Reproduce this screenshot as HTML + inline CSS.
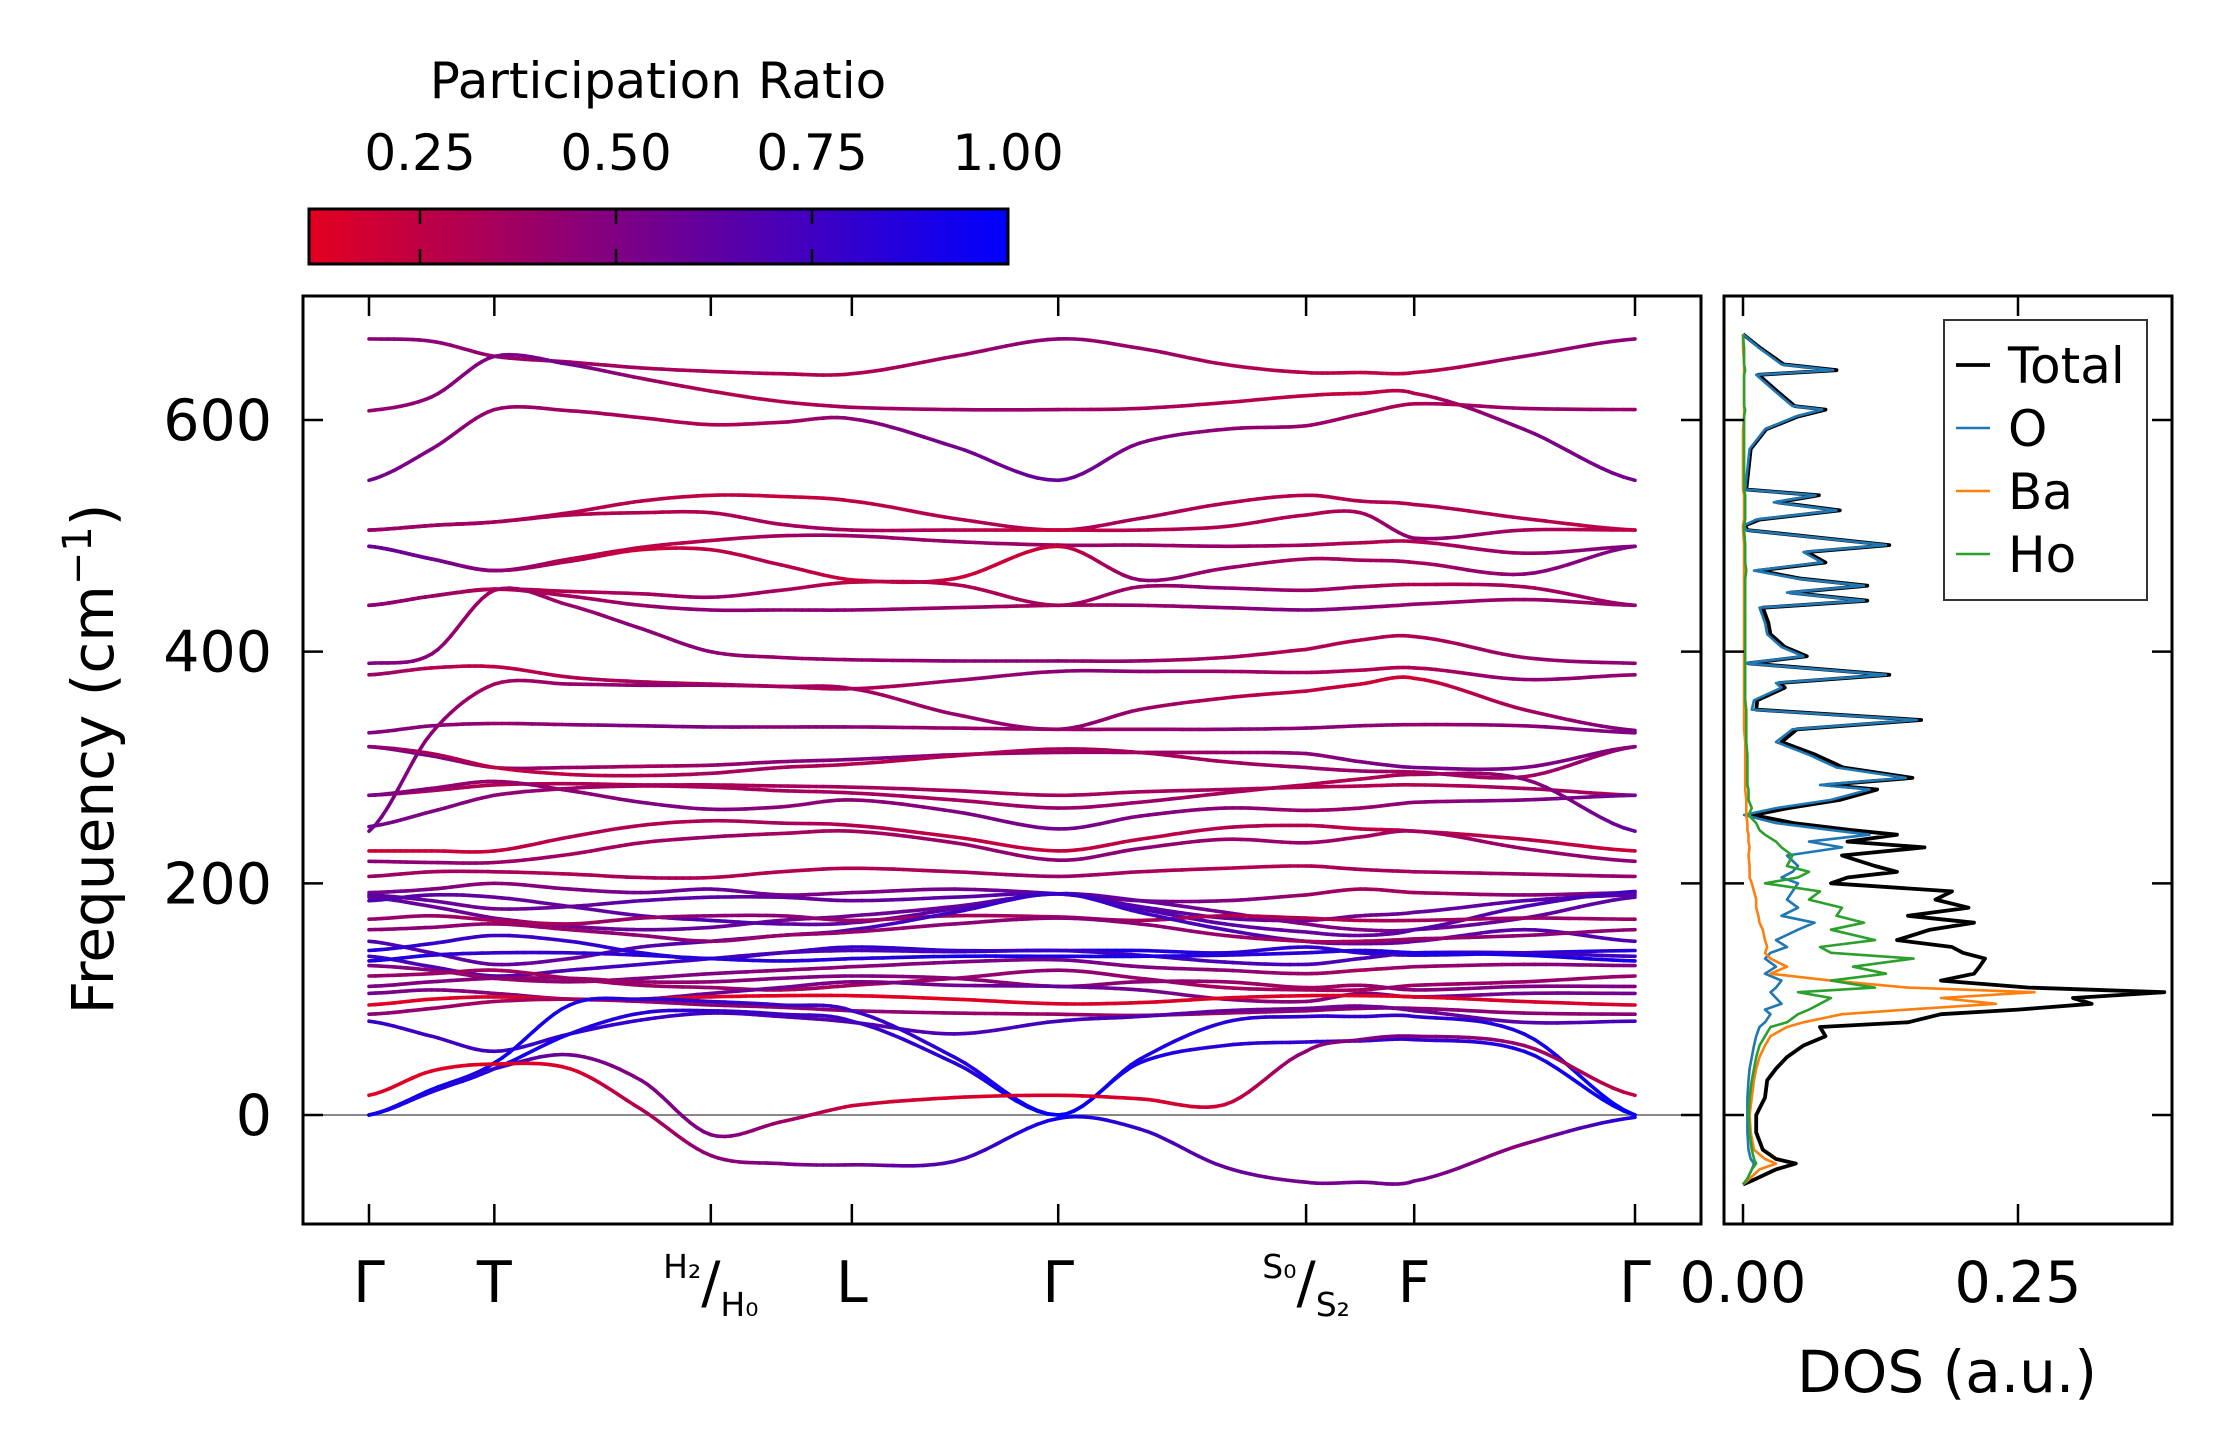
<!DOCTYPE html>
<html><head><meta charset="utf-8"><style>
html,body{margin:0;padding:0;background:#fff}
svg{display:block;font-family:"DejaVu Sans","Liberation Sans",sans-serif}
</style></head><body>
<svg id="fig" width="2222" height="1455" viewBox="0 0 2222 1455" xmlns="http://www.w3.org/2000/svg">
<defs>
<linearGradient id="cbgrad" x1="0" x2="1" y1="0" y2="0">
<stop offset="0" stop-color="rgb(227,0,32)"/><stop offset="1" stop-color="rgb(0,0,255)"/>
</linearGradient>
<clipPath id="bandclip"><rect x="303" y="296" width="1398" height="928"/></clipPath>
<clipPath id="dosclip"><rect x="1724" y="296" width="448" height="928"/></clipPath>
</defs>
<g>
<text x="658" y="98" font-size="50" text-anchor="middle">Participation Ratio</text>
<rect x="309" y="209" width="699" height="55" fill="url(#cbgrad)" stroke="#000" stroke-width="3"/>
<g id="cbticks"></g>
</g>
<g id="bands"></g>
<g id="dos"></g>
</svg>
<script>
const NS='http://www.w3.org/2000/svg';
const kLabels=['Γ','T','H','L','Γ','S','F','Γ'];
const kLabelPos=[0,0.099,0.27,0.3814,0.5444,0.7402,0.8256,1];
const kSamples=[0,0.0495,0.099,0.1586,0.2149,0.27,0.3251,0.3814,0.4623,0.5444,0.6085,0.676,0.7402,0.7829,0.8256,0.9123,1];
const yTicks=[0,200,400,600];
const cbTicks=[0.25,0.5,0.75,1.0];
const cbTickLabels=['0.25','0.50','0.75','1.00'];
const bandFreqs=[
[670,668,655,650,645,642,640,640,655,670,662,648,641,641,641,655,670],
[608,620,655,648,636,625,616,611,609,609,610,615,621,623,623,592,548],
[548,575,609,608,602,596,598,601,577,548,580,592,595,605,614,610,609],
[505,509,512,520,530,535,534,530,515,505,515,528,535,530,527,515,505],
[505,509,512,518,520,520,510,505,505,505,505,508,518,520,498,505,505],
[491,480,470,480,490,496,500,500,495,492,492,491,492,494,495,485,491],
[491,480,470,478,488,488,475,462,463,491,462,472,480,479,477,467,491],
[440,448,454,452,450,447,453,460,458,440,456,455,453,456,458,456,440],
[440,448,454,448,440,436,436,436,438,440,440,438,436,438,441,445,440],
[390,398,453,440,420,400,395,393,392,392,392,395,402,410,413,395,390],
[380,386,387,378,374,372,370,368,375,383,383,383,382,384,386,376,380],
[245,330,372,372,371,371,370,368,346,333,350,360,366,372,377,350,332],
[330,336,338,337,336,335,335,335,334,333,333,333,334,336,337,336,330],
[318,310,300,300,301,302,305,307,311,313,313,313,312,305,300,300,318],
[318,312,300,294,293,295,300,303,310,316,313,305,300,297,296,292,318],
[276,280,285,286,285,285,284,283,280,276,279,281,283,284,285,282,276],
[276,282,288,280,270,264,266,272,262,247,258,265,263,265,270,272,276],
[249,262,276,282,284,283,280,278,272,265,270,278,285,290,294,290,245],
[228,228,228,240,250,254,252,250,240,228,238,248,250,247,245,238,228],
[219,218,218,225,235,240,243,245,235,220,230,238,235,240,245,230,219],
[206,210,210,208,205,205,210,213,210,206,210,213,215,212,210,208,206],
[192,195,200,195,192,195,190,192,195,191,185,185,190,195,192,190,192],
[190,185,178,180,185,188,188,185,188,191,180,170,168,172,175,185,190],
[188,180,170,163,160,162,168,172,180,191,185,175,165,160,160,170,188],
[185,190,188,180,172,168,165,166,178,191,178,165,158,155,160,180,193],
[169,172,168,165,170,172,172,168,172,171,168,172,170,168,168,170,169],
[150,140,130,135,145,150,155,160,175,191,175,160,150,148,150,160,150],
[160,162,165,160,155,150,155,158,165,170,165,155,150,150,152,155,160],
[142,148,155,150,140,135,140,145,142,142,142,140,145,140,138,140,142],
[137,128,120,125,130,135,140,142,141,142,138,132,130,135,140,140,137],
[133,138,140,140,138,135,133,135,137,137,137,138,140,142,140,138,133],
[129,125,118,115,118,122,125,128,132,134,128,125,122,125,128,130,129],
[120,122,125,118,112,110,108,112,118,125,118,110,108,108,112,115,120],
[111,115,118,118,115,115,118,120,118,111,115,115,110,112,108,111,111],
[105,108,105,100,100,105,110,115,112,111,108,100,98,105,102,105,105],
[95,100,102,100,100,102,103,103,100,96,97,101,103,103,102,98,95],
[87,92,98,100,98,95,93,90,88,87,86,88,90,92,92,88,87],
[81,68,55,70,82,88,85,80,70,81,85,90,92,94,90,80,81],
[0,20,40,70,88,90,87,81,45,0,45,60,63,64,65,55,0],
[0,22,45,95,100,98,95,90,50,0,48,80,85,85,85,70,0],
[0,20,40,52,30,-17,-6,8,15,17,14,9,55,65,68,60,17],
[17,38,44,40,5,-35,-42,-43,-40,-3,-12,-45,-58,-58,-57,-25,-2]
];
const bandPR=[
[0.45,0.45,0.4,0.38,0.35,0.33,0.3,0.3,0.38,0.45,0.4,0.32,0.28,0.25,0.25,0.4,0.45],
[0.4,0.45,0.5,0.55,0.4,0.3,0.3,0.35,0.4,0.4,0.35,0.3,0.25,0.22,0.3,0.5,0.55],
[0.55,0.5,0.4,0.38,0.32,0.3,0.35,0.45,0.55,0.6,0.5,0.45,0.4,0.35,0.32,0.4,0.4],
[0.4,0.38,0.35,0.3,0.28,0.25,0.22,0.25,0.3,0.3,0.35,0.3,0.28,0.3,0.3,0.3,0.25],
[0.4,0.38,0.35,0.3,0.3,0.3,0.35,0.35,0.3,0.2,0.3,0.3,0.3,0.35,0.45,0.35,0.25],
[0.6,0.55,0.45,0.3,0.25,0.3,0.35,0.4,0.4,0.4,0.4,0.4,0.35,0.3,0.3,0.4,0.5],
[0.6,0.55,0.45,0.3,0.2,0.25,0.3,0.2,0.2,0.2,0.45,0.4,0.35,0.35,0.35,0.45,0.5],
[0.45,0.4,0.3,0.3,0.35,0.4,0.35,0.25,0.3,0.35,0.4,0.45,0.4,0.35,0.3,0.35,0.4],
[0.45,0.4,0.3,0.35,0.4,0.45,0.45,0.45,0.4,0.35,0.4,0.45,0.5,0.45,0.4,0.4,0.4],
[0.5,0.45,0.35,0.4,0.45,0.45,0.4,0.4,0.45,0.45,0.4,0.35,0.3,0.3,0.3,0.4,0.45],
[0.4,0.3,0.25,0.3,0.35,0.3,0.3,0.3,0.4,0.45,0.45,0.4,0.35,0.3,0.3,0.45,0.4],
[0.55,0.45,0.35,0.4,0.45,0.4,0.35,0.35,0.4,0.45,0.4,0.3,0.25,0.2,0.18,0.35,0.5],
[0.5,0.45,0.4,0.45,0.5,0.5,0.45,0.45,0.4,0.4,0.4,0.45,0.45,0.45,0.4,0.45,0.5],
[0.55,0.5,0.45,0.4,0.35,0.4,0.45,0.5,0.45,0.4,0.4,0.4,0.45,0.5,0.55,0.5,0.5],
[0.45,0.35,0.25,0.25,0.3,0.35,0.35,0.3,0.3,0.35,0.35,0.35,0.4,0.4,0.35,0.35,0.45],
[0.4,0.35,0.3,0.3,0.3,0.3,0.35,0.35,0.35,0.35,0.35,0.35,0.3,0.3,0.3,0.35,0.35],
[0.5,0.45,0.4,0.45,0.5,0.5,0.45,0.45,0.5,0.55,0.5,0.45,0.4,0.4,0.45,0.5,0.55],
[0.55,0.5,0.45,0.4,0.35,0.35,0.35,0.35,0.35,0.4,0.4,0.35,0.3,0.3,0.35,0.45,0.6],
[0.2,0.2,0.22,0.3,0.3,0.3,0.35,0.3,0.25,0.22,0.25,0.3,0.3,0.25,0.25,0.28,0.2],
[0.45,0.45,0.4,0.35,0.35,0.4,0.35,0.35,0.4,0.45,0.45,0.4,0.4,0.35,0.35,0.4,0.45],
[0.4,0.35,0.35,0.3,0.35,0.3,0.3,0.3,0.35,0.4,0.35,0.3,0.3,0.35,0.35,0.4,0.4],
[0.55,0.5,0.45,0.5,0.55,0.6,0.55,0.5,0.55,0.6,0.55,0.5,0.4,0.35,0.35,0.45,0.55],
[0.65,0.6,0.55,0.6,0.65,0.65,0.6,0.6,0.65,0.7,0.65,0.6,0.55,0.55,0.6,0.65,0.65],
[0.6,0.6,0.55,0.55,0.6,0.6,0.55,0.55,0.6,0.65,0.6,0.55,0.5,0.5,0.55,0.6,0.65],
[0.7,0.65,0.6,0.6,0.65,0.7,0.65,0.6,0.65,0.75,0.7,0.65,0.6,0.6,0.65,0.7,0.75],
[0.4,0.4,0.35,0.35,0.4,0.45,0.45,0.4,0.35,0.35,0.35,0.3,0.3,0.3,0.35,0.4,0.4],
[0.7,0.65,0.6,0.6,0.65,0.7,0.7,0.7,0.75,0.8,0.75,0.7,0.65,0.6,0.6,0.65,0.7],
[0.45,0.45,0.4,0.4,0.45,0.45,0.4,0.4,0.45,0.45,0.45,0.4,0.35,0.35,0.4,0.45,0.45],
[0.85,0.8,0.75,0.8,0.85,0.85,0.8,0.8,0.85,0.9,0.9,0.85,0.8,0.8,0.85,0.85,0.85],
[0.75,0.7,0.65,0.7,0.75,0.75,0.7,0.7,0.75,0.8,0.75,0.7,0.7,0.7,0.75,0.75,0.75],
[0.9,0.85,0.8,0.8,0.85,0.85,0.85,0.85,0.9,0.9,0.9,0.85,0.85,0.85,0.9,0.9,0.9],
[0.5,0.45,0.4,0.45,0.5,0.5,0.45,0.45,0.5,0.55,0.5,0.45,0.4,0.35,0.4,0.45,0.5],
[0.4,0.4,0.35,0.35,0.4,0.4,0.35,0.35,0.4,0.45,0.4,0.35,0.35,0.35,0.4,0.4,0.4],
[0.5,0.5,0.45,0.4,0.4,0.45,0.5,0.5,0.45,0.45,0.45,0.4,0.35,0.4,0.45,0.5,0.5],
[0.55,0.5,0.45,0.5,0.55,0.6,0.55,0.5,0.55,0.6,0.55,0.5,0.45,0.5,0.55,0.55,0.55],
[0.12,0.12,0.15,0.12,0.12,0.1,0.1,0.1,0.12,0.15,0.15,0.12,0.12,0.12,0.12,0.15,0.15],
[0.45,0.4,0.35,0.35,0.4,0.45,0.45,0.45,0.4,0.4,0.4,0.4,0.45,0.45,0.45,0.45,0.45],
[0.8,0.75,0.75,0.8,0.8,0.75,0.7,0.65,0.7,0.75,0.7,0.6,0.55,0.55,0.55,0.65,0.75],
[1,1,0.95,0.9,0.85,0.8,0.75,0.75,0.85,1,0.9,0.85,0.8,0.8,0.8,0.9,1],
[1,1,0.95,0.9,0.85,0.8,0.75,0.75,0.85,1,0.9,0.85,0.8,0.8,0.8,0.9,1],
[0.95,0.85,0.8,0.55,0.5,0.5,0.4,0.2,0.15,0.15,0.15,0.2,0.45,0.5,0.5,0.4,0.25],
[0.12,0.12,0.12,0.15,0.3,0.45,0.5,0.55,0.7,0.95,0.8,0.6,0.55,0.55,0.55,0.45,0.9]
];
const dosFreq=[674,662,648,643,639,624,612,609,603,592,575,540,535,529,522,514,509,505,492,486,477,470,463,457,451,444,438,425,415,404,396,390,380,373,369,358,350,341,333,322,311,300,291,285,281,272,265,259,252,246,242,236,231,224,215,210,205,200,193,186,179,172,166,160,151,145,140,135,128,122,116,110,106,101,96,91,87,80,76,68,60,50,40,30,15,0,-15,-30,-38,-42,-47,-55,-60];
const dosO=[0,.015,.035,.082,.012,.030,.045,.072,.048,.020,.006,.002,.066,.028,.085,.012,.001,.003,.130,.055,.072,.010,.050,.110,.040,.110,.015,.020,.022,.035,.055,.002,.130,.030,.035,.010,.008,.158,.045,.030,.060,.085,.148,.070,.115,.080,.030,.001,.030,.080,.115,.060,.090,.040,.050,.045,.035,.050,.045,.040,.050,.035,.065,.050,.030,.040,.025,.020,.030,.020,.035,.030,.025,.030,.035,.020,.025,.020,.015,.012,.010,.008,.006,.005,.004,.004,.004,.005,.007,.010,.008,.004,0];
const dosBa=[0,0,.001,.001,.001,.001,.001,.001,.001,0,0,0,.001,.001,.001,.001,0,0,.001,.001,.001,.001,.001,.001,.001,.001,.001,.001,.001,.001,.001,.001,.001,.001,.001,.001,.001,.001,.001,.002,.002,.002,.002,.002,.002,.003,.003,.003,.004,.004,.005,.005,.006,.005,.006,.006,.006,.008,.010,.012,.012,.014,.015,.018,.020,.022,.020,.025,.040,.025,.080,.150,.265,.180,.230,.150,.090,.055,.040,.025,.020,.015,.012,.010,.008,.006,.007,.010,.020,.030,.015,.006,0];
const dosHo=[0,.001,.001,.002,.001,.001,.001,.002,.001,.001,.001,.001,.002,.002,.002,.002,.001,.001,.002,.002,.002,.003,.002,.002,.002,.002,.002,.002,.002,.002,.002,.002,.002,.002,.002,.002,.003,.003,.003,.003,.004,.004,.004,.004,.005,.005,.008,.005,.012,.015,.020,.030,.035,.045,.040,.060,.050,.020,.070,.060,.090,.085,.110,.080,.120,.070,.080,.155,.100,.130,.080,.120,.050,.080,.070,.060,.050,.040,.025,.020,.015,.012,.010,.008,.006,.005,.006,.008,.010,.012,.008,.004,0];
const dosTotal=[0,.016,.037,.085,.014,.032,.047,.075,.050,.021,.007,.003,.069,.031,.088,.015,.002,.004,.133,.058,.075,.014,.053,.113,.043,.113,.018,.023,.025,.038,.058,.005,.133,.033,.038,.013,.012,.162,.049,.035,.066,.091,.154,.076,.122,.088,.041,.009,.046,.099,.140,.095,.165,.090,.120,.140,.095,.080,.190,.175,.205,.150,.210,.170,.140,.190,.200,.220,.215,.210,.180,.260,.383,.300,.317,.250,.180,.150,.070,.075,.055,.040,.030,.022,.020,.012,.012,.018,.030,.048,.030,.012,0];
const dosTicks=[0,0.25];
const dosTickLabels=['0.00','0.25'];
const legendNames=['Total','O','Ba','Ho'];
const legendColors=['#000000','#1f77b4','#ff7f0e','#2ca02c'];

const BX0=303,BX1=1701,BY0=296,BY1=1224;
const DX0=1724,DX1=2172;
function kx(k){return 369+k*1266;}
function fy(f){return 1115-f*1.1583;}
function dx(d){return 1743+d*1100;}
function cbx(v){return 420+(v-0.25)*784;}
function prColor(p){let t=(p-0.108)/(1-0.108);t=Math.max(0,Math.min(1,t));
 return 'rgb('+Math.round(227*(1-t))+',0,'+Math.round(32+223*t)+')';}
function mk(tag,attrs,parent){const e=document.createElementNS(NS,tag);for(const a in attrs)e.setAttribute(a,attrs[a]);parent.appendChild(e);return e;}
function cr(p0,p1,p2,p3,t){const t2=t*t,t3=t2*t;return 0.5*((2*p1)+(-p0+p2)*t+(2*p0-5*p1+4*p2-p3)*t2+(-p0+3*p1-3*p2+p3)*t3);}

const cbg=document.getElementById('cbticks');
cbTicks.forEach((v,i)=>{
 const x=cbx(v);
 if(v<1){
  const t1=mk('line',{x1:x,x2:x,y1:209,y2:224,stroke:'#000','stroke-width':2.5},cbg);
  
  
  const t2=mk('line',{x1:x,x2:x,y1:249,y2:264,stroke:'#000','stroke-width':2.5},cbg);
  
  
 }
 const tx=mk('text',{x:x,y:170,'font-size':50,'text-anchor':'middle'},cbg);
 tx.textContent=cbTickLabels[i];
 
 
});

const bg=document.getElementById('bands');
const zl=mk('line',{x1:BX0,x2:BX1,y1:fy(0),y2:fy(0),stroke:'#888','stroke-width':2},bg);


const bl=mk('g',{'clip-path':'url(#bandclip)'},bg);


const SUB=10;
bandFreqs.forEach((fr,bi)=>{
 const pr=bandPR[bi];const n=fr.length;
 const g=mk('g',{'stroke-width':3.6,'stroke-linecap':'round',fill:'none'},bl);
 
 
 let prev=null;
 for(let i=0;i<n-1;i++){
  const f0=fr[Math.max(0,i-1)],f1=fr[i],f2=fr[i+1],f3=fr[Math.min(n-1,i+2)];
  const k0=kSamples[i],k1=kSamples[i+1];
  for(let s=0;s<=SUB;s++){
   const t=s/SUB;
   const f=cr(f0,f1,f2,f3,t);
   const pt=[kx(k0+(k1-k0)*t),fy(f),pr[i]+(pr[i+1]-pr[i])*t];
   if(prev&&s>0){
    mk('line',{x1:prev[0].toFixed(1),y1:prev[1].toFixed(1),x2:pt[0].toFixed(1),y2:pt[1].toFixed(1),stroke:prColor((prev[2]+pt[2])/2)},g);
   }
   prev=pt;
  }
 }
});
const bf=mk('rect',{x:BX0,y:BY0,width:BX1-BX0,height:BY1-BY0,fill:'none',stroke:'#000','stroke-width':3},bg);


kLabelPos.forEach((k,i)=>{
 const x=kx(k);
 const a=mk('line',{x1:x,x2:x,y1:BY1,y2:BY1-20,stroke:'#000','stroke-width':2.5},bg);
 
 
 const b=mk('line',{x1:x,x2:x,y1:BY0,y2:BY0+20,stroke:'#000','stroke-width':2.5},bg);
 
 
 let t;
 const L=kLabels[i];
 if(L==='H'||L==='S'){
  t=mk('text',{x:x,y:1302,'text-anchor':'middle','font-size':57},bg);
  const a1=mk('tspan',{'font-size':33,dy:-24},t);a1.textContent=(L==='H'?'H₂':'S₀');
  const a2=mk('tspan',{'font-size':57,dy:24},t);a2.textContent='/';
  const a3=mk('tspan',{'font-size':33,dy:14},t);a3.textContent=(L==='H'?'H₀':'S₂');
  
 } else {
  t=mk('text',{x:x,y:1302,'text-anchor':'middle','font-size':57},bg);
  t.textContent=L;
  
 }
 
});
yTicks.forEach(v=>{
 const y=fy(v);
 const a=mk('line',{x1:BX0,x2:BX0+20,y1:y,y2:y,stroke:'#000','stroke-width':2.5},bg);
 
 
 const b=mk('line',{x1:BX1,x2:BX1-20,y1:y,y2:y,stroke:'#000','stroke-width':2.5},bg);
 
 
 const t=mk('text',{x:272,y:y+20,'text-anchor':'end','font-size':57},bg);
 t.textContent=String(v);
 
 
});
const yt=mk('text',{x:0,y:0,'text-anchor':'middle','font-size':58,transform:'translate(113,759) rotate(-90)'},bg);


yt.appendChild(document.createTextNode('Frequency (cm'));
const sup=mk('tspan',{'font-size':40,dy:-22},yt);sup.textContent='−1';
const cl=mk('tspan',{dy:22},yt);cl.textContent=')';

const dg=document.getElementById('dos');
const dl=mk('g',{'clip-path':'url(#dosclip)',fill:'none','stroke-linejoin':'round'},dg);


function dosLine(arr,color,w,name){
 const pts=arr.map((d,i)=>dx(d).toFixed(1)+','+fy(dosFreq[i]).toFixed(1)).join(' ');
 const p=mk('polyline',{points:pts,stroke:color,'stroke-width':w},dl);
 
 
}
dosLine(dosTotal,'#000',3.8,'dos-total-line');
dosLine(dosO,'#1f77b4',2.6,'dos-o-line');
dosLine(dosBa,'#ff7f0e',2.6,'dos-ba-line');
dosLine(dosHo,'#2ca02c',2.6,'dos-ho-line');
const df=mk('rect',{x:DX0,y:BY0,width:DX1-DX0,height:BY1-BY0,fill:'none',stroke:'#000','stroke-width':3},dg);


yTicks.forEach(v=>{
 const y=fy(v);
 const a=mk('line',{x1:DX0,x2:DX0+20,y1:y,y2:y,stroke:'#000','stroke-width':2.5},dg);
 
 
 const b=mk('line',{x1:DX1,x2:DX1-20,y1:y,y2:y,stroke:'#000','stroke-width':2.5},dg);
 
 
});
dosTicks.forEach((v,i)=>{
 const x=dx(v);
 const a=mk('line',{x1:x,x2:x,y1:BY1,y2:BY1-20,stroke:'#000','stroke-width':2.5},dg);
 
 
 const b=mk('line',{x1:x,x2:x,y1:BY0,y2:BY0+20,stroke:'#000','stroke-width':2.5},dg);
 
 
 const t=mk('text',{x:x,y:1302,'text-anchor':'middle','font-size':57},dg);
 t.textContent=dosTickLabels[i];
 
 
});
const xt=mk('text',{x:1947,y:1392,'text-anchor':'middle','font-size':58},dg);
xt.textContent='DOS (a.u.)';


const lg=mk('g',{},dg);


const lb=mk('rect',{x:1944,y:320,width:203,height:280,fill:'#fff',stroke:'#333','stroke-width':2},lg);


legendNames.forEach((nm,i)=>{
 const y=365+i*63;
 const e=mk('g',{},lg);
 
 
 mk('line',{x1:1956,x2:1990,y1:y,y2:y,stroke:legendColors[i],'stroke-width':i===0?3.8:2.6},e);
 const t=mk('text',{x:2008,y:y+18,'font-size':50},e);
 t.textContent=nm;
});
</script>
</body></html>
